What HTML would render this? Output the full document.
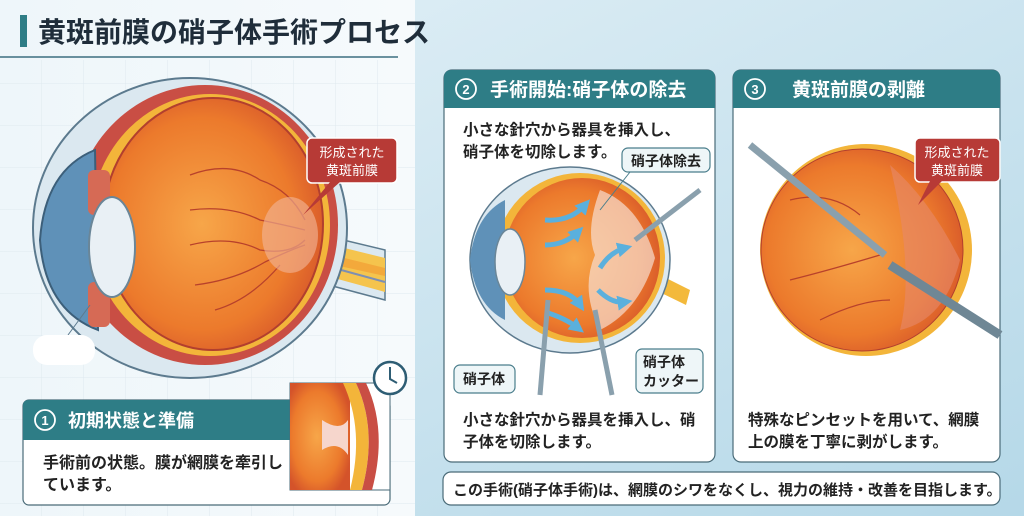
<!DOCTYPE html>
<html><head><meta charset="utf-8"><style>
html,body{margin:0;padding:0;width:1024px;height:516px;overflow:hidden}
body{font-family:"Liberation Sans","Noto Sans CJK JP",sans-serif}
text{font-family:"Liberation Sans","Noto Sans CJK JP",sans-serif}
</style></head><body>
<svg width="1024" height="516" viewBox="0 0 1024 516" xmlns="http://www.w3.org/2000/svg">
<defs>
<linearGradient id="bgR" x1="0" y1="0" x2="1" y2="1"><stop offset="0" stop-color="#e4f1f7"/><stop offset="1" stop-color="#b5d8e8"/></linearGradient>
<linearGradient id="bgL" x1="0" y1="0" x2="1" y2="0"><stop offset="0" stop-color="#eef6fa"/><stop offset="1" stop-color="#f6fafc"/></linearGradient>
<radialGradient id="org" cx="0.45" cy="0.5" r="0.6"><stop offset="0" stop-color="#f7a649"/><stop offset="0.7" stop-color="#ec7a2c"/><stop offset="1" stop-color="#d4532a"/></radialGradient>
<pattern id="grid" width="42" height="42" patternUnits="userSpaceOnUse"><path d="M42 0V42H0" fill="none" stroke="#dfe9ef" stroke-width="1"/></pattern>
<marker id="ah" viewBox="0 0 10 10" refX="5" refY="5" markerWidth="3" markerHeight="3" orient="auto"><path d="M0 0L10 5L0 10Z" fill="#5ab0dd"/></marker>
</defs>
<rect width="1024" height="516" fill="url(#bgR)"/>
<rect width="415" height="516" fill="url(#bgL)"/>
<rect x="0" y="60" width="415" height="456" fill="url(#grid)"/>
<!-- title -->
<rect x="20" y="15" width="7" height="32" fill="#2e7d86"/>
<text x="38" y="42" font-size="28" font-weight="bold" fill="#1f2d3a">黄斑前膜の硝子体手術プロセス</text>
<line x1="0" y1="57" x2="398" y2="57" stroke="#3c6f80" stroke-width="1.5"/>

<!-- big eye -->
<g>
<path d="M310 232 L385 250 L385 300 L310 280Z" fill="#dbe8f0" stroke="#5c7a8e" stroke-width="1.5"/>
<path d="M312 240 L385 258 L385 292 L312 272Z" fill="#f5c44d"/>
<path d="M312 250 L385 268 L385 276 L312 260Z" fill="#f3a93b"/>
<path d="M312 262 L385 282" stroke="#7d8fb3" stroke-width="2"/>
<ellipse cx="190" cy="228" rx="157" ry="150" fill="#dbe8f0" stroke="#5c7a8e" stroke-width="2"/>
<ellipse cx="205" cy="225" rx="133" ry="140" fill="#c94e44"/>
<ellipse cx="210" cy="225" rx="120" ry="131" fill="#f3b53a"/>
<ellipse cx="213" cy="224" rx="110" ry="126" fill="url(#org)" stroke="#b23f2e" stroke-width="2"/>
<path d="M40 240 Q45 170 95 150 L98 330 Q45 310 40 240Z" fill="#5f91b8" stroke="#3c5f7a" stroke-width="2"/>
<rect x="88" y="170" width="22" height="45" rx="6" fill="#d66a55"/>
<rect x="88" y="282" width="22" height="45" rx="6" fill="#d66a55"/>
<ellipse cx="112" cy="247" rx="23" ry="50" fill="#e9f0f5" stroke="#6a8698" stroke-width="2"/>
<g stroke="#b8412b" stroke-width="1.3" fill="none">
<path d="M190 175 Q230 160 260 180 Q290 190 305 220"/>
<path d="M190 210 Q230 205 260 220 Q285 225 305 230"/>
<path d="M190 245 Q230 235 260 250 Q290 255 305 240"/>
<path d="M195 285 Q235 280 265 262 Q290 250 305 245"/>
<path d="M215 310 Q250 300 280 265"/>
</g>
<ellipse cx="290" cy="235" rx="28" ry="38" fill="#f2b59a" opacity="0.6"/>
</g>
<rect x="307" y="138" width="90" height="45" rx="5" fill="#b73a36" stroke="#fff" stroke-width="1.5"/>
<path d="M330 182 L340 182 L303 215Z" fill="#b73a36"/>
<text x="352" y="157" font-size="13" fill="#fff" text-anchor="middle">形成された</text>
<text x="352" y="175" font-size="13" fill="#fff" text-anchor="middle">黄斑前膜</text>
<line x1="90" y1="305" x2="68" y2="335" stroke="#5c7a8e" stroke-width="1"/>
<rect x="33" y="335" width="62" height="30" rx="14" fill="#fff"/>

<!-- panel 1 -->
<rect x="23" y="400" width="367" height="105" rx="6" fill="#fff" stroke="#4a6b78" stroke-width="1.2"/>
<path d="M29 400 H290 V440 H23 V406 Q23 400 29 400Z" fill="#2e7d86"/>
<circle cx="45" cy="420" r="10" fill="none" stroke="#fff" stroke-width="1.8"/>
<text x="45" y="425" font-size="13" fill="#fff" text-anchor="middle" font-weight="bold">1</text>
<text x="68" y="427" font-size="18" font-weight="bold" fill="#fff">初期状態と準備</text>
<text x="43" y="468" font-size="16" font-weight="bold" fill="#222">手術前の状態。膜が網膜を牽引し</text>
<text x="43" y="490" font-size="16" font-weight="bold" fill="#222">ています。</text>
<rect x="290" y="383" width="100" height="107" fill="#fff" stroke="#4a6b78" stroke-width="1"/>
<rect x="290" y="383" width="60" height="107" fill="url(#org)"/>
<path d="M343 383 Q365 430 350 490 L362 490 Q378 430 356 383Z" fill="#f3b53a"/>
<path d="M356 383 Q378 430 362 490 L372 490 Q388 430 366 383Z" fill="#c94e44"/>
<path d="M322 420 Q340 432 348 420 L348 455 Q338 440 322 450Z" fill="#f6d6cc"/>
<circle cx="390" cy="378" r="16" fill="#fff" stroke="#2e5d74" stroke-width="2.5"/>
<path d="M390 367 V379 L397 383" stroke="#2e5d74" stroke-width="2" fill="none"/>

<!-- panel 2 -->
<rect x="444" y="70" width="271" height="392" rx="8" fill="#fff" stroke="#4a6b78" stroke-width="1.2"/>
<path d="M452 70 H707 Q715 70 715 78 V108 H444 V78 Q444 70 452 70Z" fill="#2e7d86"/>
<circle cx="466" cy="89" r="10" fill="none" stroke="#fff" stroke-width="1.8"/>
<text x="466" y="94" font-size="13" fill="#fff" text-anchor="middle" font-weight="bold">2</text>
<text x="490" y="96" font-size="19" font-weight="bold" fill="#fff">手術開始:硝子体の除去</text>
<text x="463" y="135" font-size="15.5" font-weight="bold" fill="#222">小さな針穴から器具を挿入し、</text>
<text x="463" y="157" font-size="15.5" font-weight="bold" fill="#222">硝子体を切除します。</text>
<path d="M650 270 L690 290 L686 305 L645 285Z" fill="#f3b93b"/>
<ellipse cx="570" cy="260" rx="100" ry="93" fill="#dbe8f0" stroke="#5c7a8e" stroke-width="1.5"/>
<ellipse cx="580" cy="258" rx="85" ry="85" fill="#f3b53a"/>
<ellipse cx="582" cy="258" rx="78" ry="80" fill="url(#org)"/>
<path d="M600 190 Q585 230 595 255 Q580 290 600 330 Q640 310 655 258 Q640 205 600 190Z" fill="#f7ddd0" opacity="0.7"/>
<path d="M470 260 Q475 215 505 200 L505 320 Q475 305 470 260Z" fill="#5f91b8"/>
<ellipse cx="510" cy="262" rx="15" ry="33" fill="#e9f0f5" stroke="#6a8698" stroke-width="1.5"/>
<g stroke="#5ab0dd" stroke-width="5" fill="none" marker-end="url(#ah)">
<path d="M545 220 Q570 222 585 205"/><path d="M545 245 Q565 245 578 232"/><path d="M545 290 Q570 290 580 305"/><path d="M545 312 Q565 318 578 328"/><path d="M600 268 Q610 252 625 248"/><path d="M598 290 Q612 304 625 302"/>
</g>
<line x1="548" y1="300" x2="540" y2="395" stroke="#8aa0ad" stroke-width="5"/>
<line x1="595" y1="310" x2="612" y2="395" stroke="#8aa0ad" stroke-width="5"/>
<line x1="700" y1="190" x2="635" y2="240" stroke="#8aa0ad" stroke-width="5"/>
<rect x="622" y="148" width="88" height="24" rx="6" fill="#eef6f8" stroke="#4a7e8c" stroke-width="1.2"/>
<text x="666" y="166" font-size="14" font-weight="bold" fill="#222" text-anchor="middle">硝子体除去</text>
<line x1="630" y1="172" x2="600" y2="210" stroke="#4a7e8c"/>
<rect x="454" y="365" width="61" height="28" rx="6" fill="#eef6f8" stroke="#4a7e8c" stroke-width="1.2"/>
<text x="484" y="384" font-size="14" font-weight="bold" fill="#222" text-anchor="middle">硝子体</text>
<rect x="636" y="349" width="67" height="44" rx="6" fill="#eef6f8" stroke="#4a7e8c" stroke-width="1.2"/>
<text x="643" y="367" font-size="14" font-weight="bold" fill="#222">硝子体</text>
<text x="643" y="386" font-size="14" font-weight="bold" fill="#222">カッター</text>
<text x="463" y="425" font-size="15.5" font-weight="bold" fill="#222">小さな針穴から器具を挿入し、硝</text>
<text x="463" y="447" font-size="15.5" font-weight="bold" fill="#222">子体を切除します。</text>

<!-- panel 3 -->
<rect x="733" y="70" width="267" height="392" rx="8" fill="#fff" stroke="#4a6b78" stroke-width="1.2"/>
<path d="M741 70 H992 Q1000 70 1000 78 V108 H733 V78 Q733 70 741 70Z" fill="#2e7d86"/>
<circle cx="755" cy="89" r="10" fill="none" stroke="#fff" stroke-width="1.8"/>
<text x="755" y="94" font-size="13" fill="#fff" text-anchor="middle" font-weight="bold">3</text>
<text x="792" y="96" font-size="19" font-weight="bold" fill="#fff">黄斑前膜の剥離</text>
<circle cx="866" cy="250" r="106" fill="#f3b53a"/>
<circle cx="862" cy="250" r="101" fill="url(#org)" stroke="#b23f2e" stroke-width="1"/>
<path d="M890 165 Q930 200 960 260 Q945 320 900 330 Q915 270 890 165Z" fill="#e6896a" opacity="0.6"/>
<g stroke="#b8412b" stroke-width="1.2" fill="none"><path d="M790 200 Q830 190 860 215"/><path d="M790 280 Q830 270 880 255"/><path d="M820 320 Q860 300 890 300"/></g>
<line x1="750" y1="145" x2="885" y2="255" stroke="#8aa0ad" stroke-width="7"/>
<line x1="890" y1="265" x2="1000" y2="335" stroke="#6f8795" stroke-width="9"/>
<rect x="915" y="138" width="85" height="44" rx="5" fill="#b73a36" stroke="#fff" stroke-width="1.5"/>
<path d="M930 181 L942 181 L918 205Z" fill="#b73a36"/>
<text x="957" y="157" font-size="13" fill="#fff" text-anchor="middle">形成された</text>
<text x="957" y="175" font-size="13" fill="#fff" text-anchor="middle">黄斑前膜</text>
<text x="748" y="425" font-size="15.5" font-weight="bold" fill="#222">特殊なピンセットを用いて、網膜</text>
<text x="748" y="447" font-size="15.5" font-weight="bold" fill="#222">上の膜を丁寧に剥がします。</text>

<!-- bottom -->
<rect x="443" y="472" width="557" height="33" rx="8" fill="#fff" stroke="#4a6b78" stroke-width="1.2"/>
<text x="453" y="495" font-size="15" font-weight="bold" fill="#222">この手術(硝子体手術)は、網膜のシワをなくし、視力の維持・改善を目指します。</text>
</svg>
</body></html>
